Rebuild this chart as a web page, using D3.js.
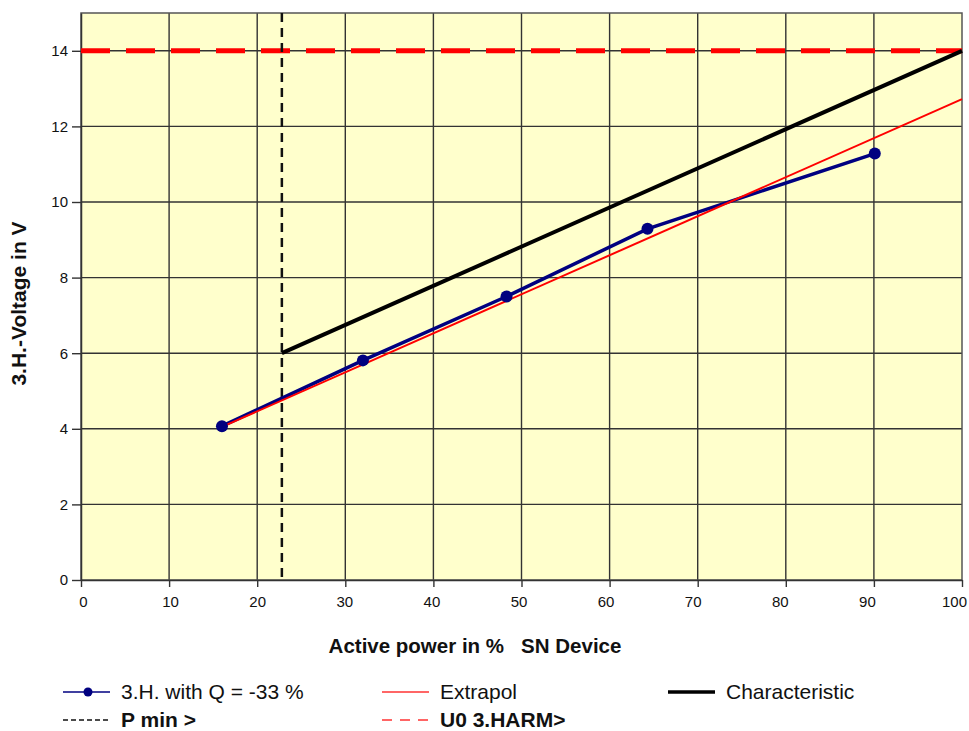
<!DOCTYPE html>
<html>
<head>
<meta charset="utf-8">
<script src="https://cdn.jsdelivr.net/npm/d3@7"></script>
<style>
  html, body { margin: 0; padding: 0; background: #fff; }
  svg { display: block; font-family: "Liberation Sans", Arial, sans-serif; }
</style>
</head>
<body>
<svg id="chart" width="969" height="731"></svg>
<script>
// Measured 3rd-harmonic voltage vs. active power
const powerPct = [16.0, 32.0, 48.3, 64.3, 90.1];
const voltage3H = [4.07, 5.81, 7.50, 9.29, 11.28];

// Linear extrapolation of the measurements
const extrapolX = [16.0, 100];
const extrapolY = [4.05, 12.72];

// Protection characteristic
const charX = [22.8, 100];
const charY = [6.0, 14.0];

// Limits
const pMin = 22.8;
const u0Harm = 14;

const xTicks = [0, 10, 20, 30, 40, 50, 60, 70, 80, 90, 100];
const yTicks = [0, 2, 4, 6, 8, 10, 12, 14];

const svg = d3.select("#chart");
const L = 81, R = 962, T = 13, B = 580;

const x = d3.scaleLinear().domain([0, 100]).range([L, R]);
const y = d3.scaleLinear().domain([0, 15]).range([B, T]);

// plot background
svg.append("rect")
  .attr("x", L).attr("y", T).attr("width", R - L).attr("height", B - T)
  .attr("fill", "#ffffcc");

// grid
const grid = svg.append("g").attr("stroke", "#333").attr("stroke-width", 1.4);
grid.selectAll("line.v").data(xTicks.slice(1, -1)).join("line")
  .attr("x1", d => x(d)).attr("x2", d => x(d)).attr("y1", T).attr("y2", B);
grid.selectAll("line.h").data(yTicks.slice(1)).join("line")
  .attr("y1", d => y(d)).attr("y2", d => y(d)).attr("x1", L).attr("x2", R);

// frame
svg.append("rect")
  .attr("x", L).attr("y", T).attr("width", R - L).attr("height", B - T)
  .attr("fill", "none").attr("stroke", "#555").attr("stroke-width", 1.5);

// axes
const xAxis = svg.append("g").attr("transform", `translate(0,${B})`)
  .call(d3.axisBottom(x).tickValues(xTicks).tickSize(7).tickPadding(9).tickSizeOuter(0));
const yAxis = svg.append("g").attr("transform", `translate(${L},0)`)
  .call(d3.axisLeft(y).tickValues(yTicks).tickSize(9).tickPadding(4).tickSizeOuter(0));
[xAxis, yAxis].forEach(a => {
  a.select(".domain").attr("stroke", "#333").attr("stroke-width", 1.5);
  a.selectAll(".tick line").attr("stroke", "#333").attr("stroke-width", 1.4);
  a.selectAll(".tick text").attr("fill", "#111").style("font-size", "15px")
    .style("font-family", "Liberation Sans, Arial, sans-serif");
});
// x labels drift slightly left toward the right end of the axis
xAxis.selectAll(".tick text").attr("dx", d => 2 - 0.1 * d);

const line = d3.line().x(d => x(d[0])).y(d => y(d[1]));

// U0 3.HARM> limit
svg.append("line")
  .attr("x1", x(0)).attr("x2", x(100)).attr("y1", y(u0Harm)).attr("y2", y(u0Harm))
  .attr("stroke", "#ff0000").attr("stroke-width", 5).attr("stroke-dasharray", "29,16");

// P min > limit
svg.append("line")
  .attr("x1", x(pMin)).attr("x2", x(pMin)).attr("y1", T).attr("y2", B)
  .attr("stroke", "#111").attr("stroke-width", 2.5).attr("stroke-dasharray", "9,6");

// characteristic
svg.append("path").datum(charX.map((v, i) => [v, charY[i]]))
  .attr("d", line).attr("fill", "none").attr("stroke", "#000").attr("stroke-width", 4);

// measurement series
const pts = powerPct.map((v, i) => [v, voltage3H[i]]);
svg.append("path").datum(pts)
  .attr("d", line).attr("fill", "none").attr("stroke", "#000080").attr("stroke-width", 3.5);

// extrapolation
svg.append("path").datum(extrapolX.map((v, i) => [v, extrapolY[i]]))
  .attr("d", line).attr("fill", "none").attr("stroke", "#ff0000").attr("stroke-width", 2);

svg.append("g").selectAll("circle").data(pts).join("circle")
  .attr("cx", d => x(d[0])).attr("cy", d => y(d[1])).attr("r", 6)
  .attr("fill", "#000080");

// axis titles
svg.append("text").attr("x", 475).attr("y", 653).attr("text-anchor", "middle")
  .style("font-size", "20.5px").style("font-weight", "bold").style("white-space", "pre")
  .attr("fill", "#111")
  .text("Active power in %   SN Device");
svg.append("text").attr("transform", `translate(26,${(T + B) / 2 + 7}) rotate(-90)`)
  .attr("text-anchor", "middle")
  .style("font-size", "21px").style("font-weight", "bold").attr("fill", "#111")
  .text("3.H.-Voltage in V");

// legend
const legend = [
  { label: "3.H. with Q = -33 %", color: "#000080", w: 1.5, dash: null, dot: true, bold: false, lx: 63, ly: 692 },
  { label: "Extrapol", color: "#ff3333", w: 1.6, dash: null, dot: false, bold: false, lx: 382, ly: 692 },
  { label: "Characteristic", color: "#000", w: 3.5, dash: null, dot: false, bold: false, lx: 668, ly: 692 },
  { label: "P min >", color: "#111", w: 1.3, dash: "5,3", dot: false, bold: true, lx: 63, ly: 720 },
  { label: "U0 3.HARM>", color: "#ff3333", w: 1.3, dash: "10,8", dot: false, bold: true, lx: 382, ly: 720 }
];
const lg = svg.append("g").selectAll("g").data(legend).join("g")
  .attr("transform", d => `translate(${d.lx},${d.ly})`);
lg.append("line").attr("x1", 0).attr("x2", 47).attr("y1", 0).attr("y2", 0)
  .attr("stroke", d => d.color).attr("stroke-width", d => d.w)
  .attr("stroke-dasharray", d => d.dash);
lg.filter(d => d.dot).append("circle").attr("cx", 25).attr("cy", 0).attr("r", 4.5).attr("fill", d => d.color);
lg.append("text").attr("x", 58).attr("y", 7)
  .style("font-size", "21px").style("font-weight", d => d.bold ? "bold" : "normal")
  .attr("fill", "#111").text(d => d.label);
</script>
</body>
</html>
